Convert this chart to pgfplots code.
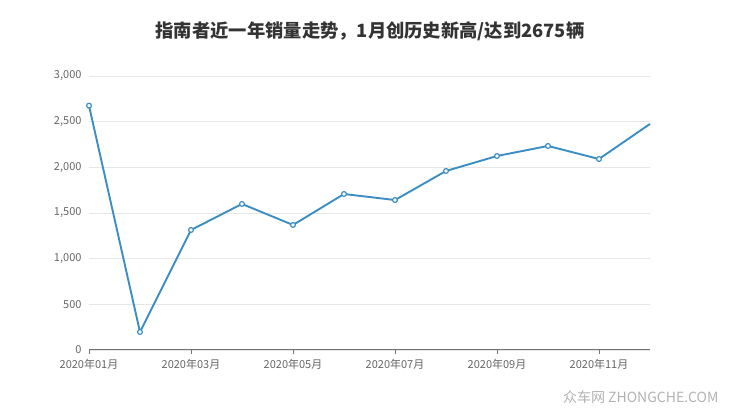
\documentclass[border=0pt]{standalone}
\usepackage{pgfplots}
\pgfplotsset{compat=1.18}
\usepackage{fontspec}
\setmainfont{Noto Sans CJK SC}
\definecolor{lineblue}{HTML}{3B8DC3}
\definecolor{gridgray}{HTML}{E6E6E6}
\definecolor{ticktext}{HTML}{666666}
\begin{document}
\begin{tikzpicture}[x=1pt,y=1pt]
\path[use as bounding box] (0,0) rectangle (740,417);
\node[font=\fontsize{18.3}{21}\selectfont\bfseries, text=black!80] at (370,386) {指南者近一年销量走势，1月创历史新高/达到2675辆};
\begin{axis}[
  at={(89pt,67pt)}, anchor=south west,
  scale only axis, width=561pt, height=274pt,
  xmin=0, xmax=11, ymin=0, ymax=3000,
  axis lines*=left,
  x axis line style={draw=black!55, line width=1pt, -},
  y axis line style={draw=none},
  xtick={0,2,4,6,8,10},
  xticklabels={2020年01月,2020年03月,2020年05月,2020年07月,2020年09月,2020年11月},
  xtick style={draw=black!55, line width=0.8pt},
  xtick align=outside, major tick length=4pt,
  ytick={0,500,...,3000},
  ymajorgrids, grid style={draw=gridgray, line width=0.8pt},
  ytick style={draw=none},
  yticklabel style={font=\fontsize{11}{13}\selectfont, text=ticktext, xshift=-4pt},
  xticklabel style={font=\fontsize{11}{13}\selectfont, text=ticktext, yshift=-2pt},
  /pgf/number format/assume math mode=true,
  /pgf/number format/1000 sep={,},
  scaled y ticks=false,
  clip=false,
]
\addplot[lineblue, line width=1.9pt, mark=*, mark size=2.4pt, mark indices={1,...,11},
  mark options={fill=white, draw=lineblue, line width=1.2pt}]
  coordinates {
  (0,2675) (1,197) (2,1314) (3,1599) (4,1369) (5,1708)
  (6,1642) (7,1960) (8,2124) (9,2234) (10,2091) (11,2475)
  };
\end{axis}
\node[font=\fontsize{14}{16}\selectfont, text=black!30, anchor=east] at (722,20) {众车网 ZHONGCHE.COM};
\end{tikzpicture}
\end{document}
